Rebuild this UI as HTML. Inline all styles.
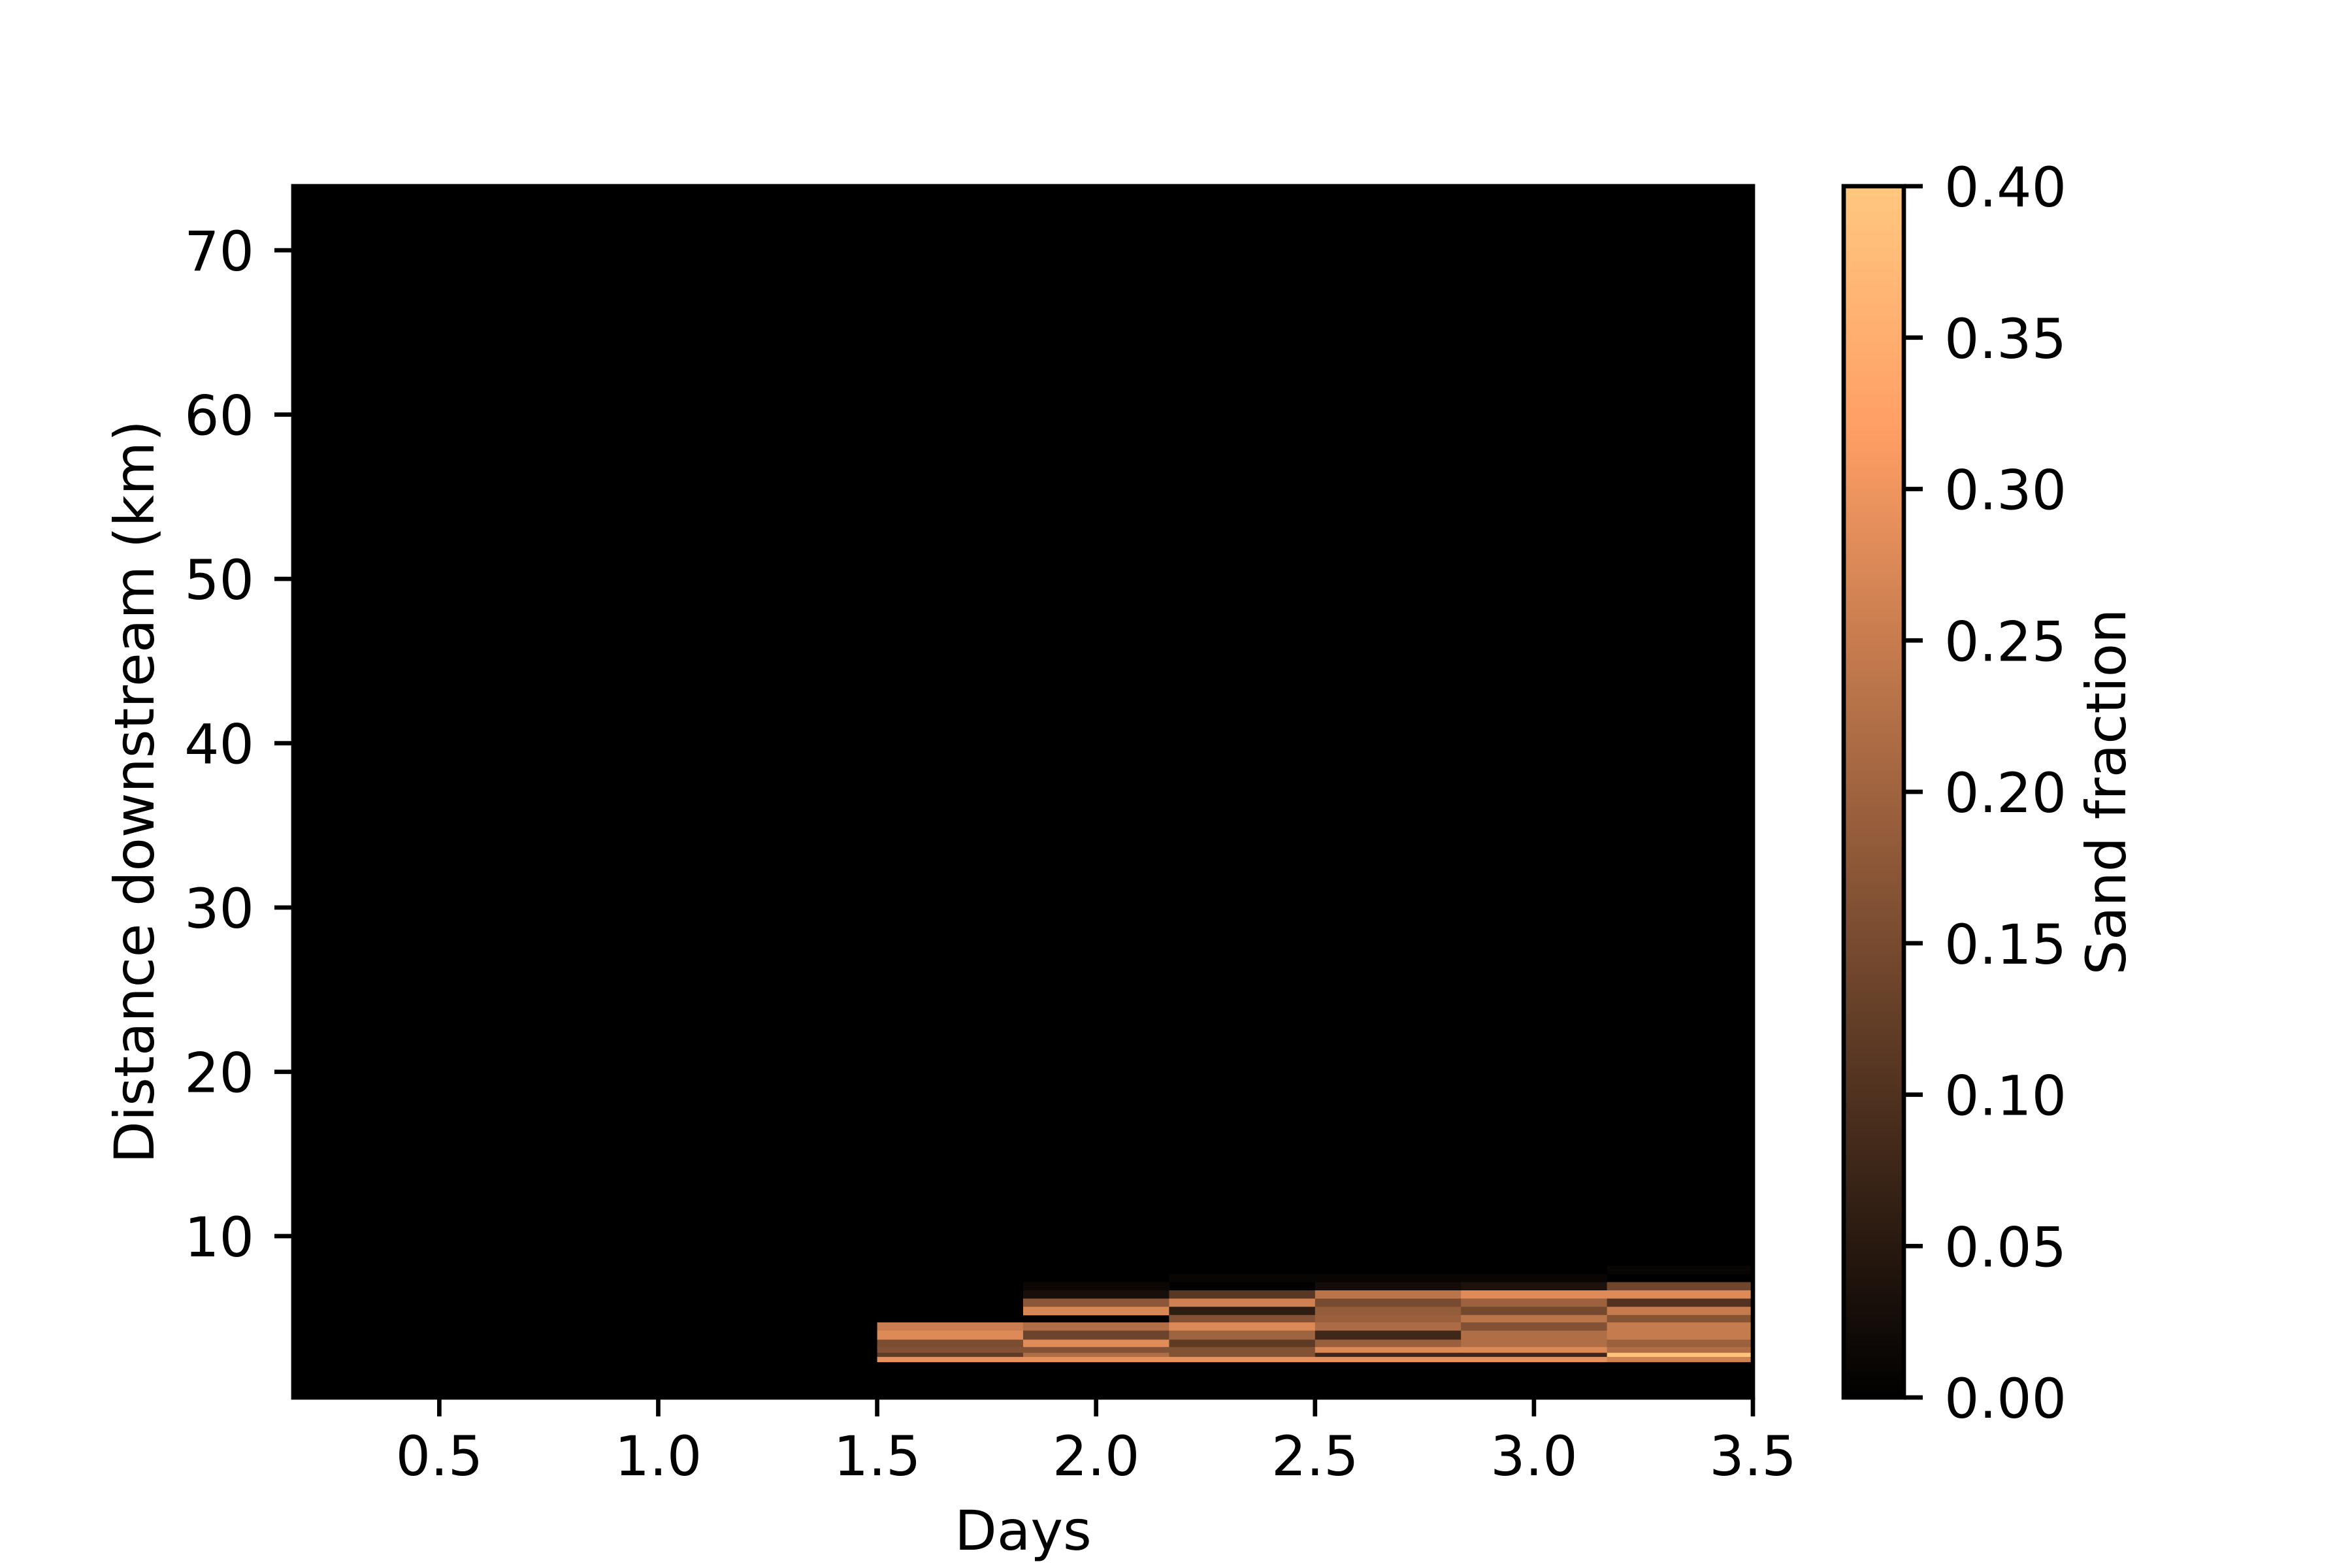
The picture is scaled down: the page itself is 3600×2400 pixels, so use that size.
<!DOCTYPE html>
<html><head><meta charset="utf-8"><style>
html,body{margin:0;padding:0;background:#fff;}
svg{display:block;font-family:"DejaVu Sans","Liberation Sans",sans-serif;}
</style></head>
<body>
<svg id="chart" width="3600" height="2400" viewBox="0 0 3600 2400" xmlns="http://www.w3.org/2000/svg">
<defs>
<linearGradient id="copper" x1="0" y1="1" x2="0" y2="0">
<stop offset="0" stop-color="rgb(0,0,0)"/>
<stop offset="0.8" stop-color="rgb(255,159,101)"/>
<stop offset="1" stop-color="rgb(255,199,127)"/>
</linearGradient>
</defs>
<rect x="0" y="0" width="3600" height="2400" fill="#fff"/>
<g id="plot"></g>
</svg>
<script>
// ---- data ----
const colStarts = [1.5, 1.8333, 2.1667, 2.5, 2.8333, 3.1667];
const colWidth = 1/3;
const rowTops = [8.2, 7.7, 7.2, 6.7, 6.2, 5.7, 5.2, 4.75, 4.25, 3.7, 3.25, 2.9, 2.65];
const rowBottoms = [7.7, 7.2, 6.7, 6.2, 5.7, 5.2, 4.75, 4.25, 3.7, 3.25, 2.9, 2.65, 2.35];
// values per row (top to bottom), columns c0..c5
const row0 = [0, 0, 0, 0, 0, 0.01];
const row1 = [0, 0, 0.01, 0.01, 0.01, 0];
const row2 = [0, 0.015, 0, 0.025, 0.035, 0.14];
const row3 = [0, 0.03, 0.11, 0.233, 0.28, 0.28];
const row4 = [0, 0.175, 0.26, 0.15, 0.196, 0.103];
const row5 = [0, 0.27, 0.058, 0.185, 0.146, 0.247];
const row6 = [0, 0, 0.165, 0.193, 0.235, 0.168];
const row7 = [0.252, 0.22, 0.276, 0.215, 0.165, 0.246];
const row8 = [0.277, 0.136, 0.198, 0.079, 0.22, 0.246];
const row9 = [0.156, 0.281, 0.119, 0.193, 0.22, 0.195];
const row10 = [0.165, 0.165, 0.165, 0.276, 0.276, 0.221];
const row11 = [0.119, 0.218, 0.165, 0.078, 0.078, 0.395];
const row12 = [0.291, 0.291, 0.291, 0.291, 0.291, 0.26];
const values = [row0,row1,row2,row3,row4,row5,row6,row7,row8,row9,row10,row11,row12];
const xTicks = [0.5, 1.0, 1.5, 2.0, 2.5, 3.0, 3.5];
const xTickLabels = ["0.5","1.0","1.5","2.0","2.5","3.0","3.5"];
const yTicks = [10, 20, 30, 40, 50, 60, 70];
const yTickLabels = ["10","20","30","40","50","60","70"];
const cbTicks = [0, 0.05, 0.1, 0.15, 0.2, 0.25, 0.3, 0.35, 0.4];
const cbTickLabels = ["0.00","0.05","0.10","0.15","0.20","0.25","0.30","0.35","0.40"];
const vmin = 0, vmax = 0.4;

// ---- layout ----
const L = 449, R = 2683, T = 285, B = 2139;
const xMin = 1/6, xMax = 3.5;
const yMin = 0.18, yMax = 73.9;
const X = v => L + (v - xMin) / (xMax - xMin) * (R - L);
const Y = v => B - (v - yMin) / (yMax - yMin) * (B - T);
const CBL = 2822, CBR = 2914;
const CY = v => B - (v - vmin) / (vmax - vmin) * (B - T);
function copper(v){
  let t = Math.max(0, Math.min(1, (v - vmin) / (vmax - vmin)));
  const r = Math.min(1, 1.25*t), g = 0.7812*t, b = 0.4975*t;
  return `rgb(${Math.round(r*255)},${Math.round(g*255)},${Math.round(b*255)})`;
}
const NS = "http://www.w3.org/2000/svg";
const g = document.getElementById('plot');
function mk(tag, attrs, parent){
  const e = document.createElementNS(NS, tag);
  for (const k in attrs) e.setAttribute(k, attrs[k]);
  (parent||g).appendChild(e);
  return e;
}
// axes background (zero values)
let bg = mk('rect', {x:L, y:T, width:R-L, height:B-T, fill:'#000'});


// cells
values.forEach((row, i) => {
  row.forEach((v, j) => {
    if (v <= 0) return;
    const x0 = X(colStarts[j]), x1 = X(colStarts[j] + colWidth);
    const y0 = Y(rowTops[i]), y1 = Y(rowBottoms[i]);
    const c = mk('rect', {x:x0, y:y0, width:x1-x0+0.5, height:y1-y0+0.5, fill:copper(v)});
    
    
  });
});
// spines
let sp = mk('rect', {x:L, y:T, width:R-L, height:B-T, fill:'none', stroke:'#000', 'stroke-width':6.7});


// x ticks
xTicks.forEach((v, i) => {
  const t = mk('line', {x1:X(v), x2:X(v), y1:B, y2:B+29, stroke:'#000', 'stroke-width':6.7});
  
  
  const tx = mk('text', {x:X(v), y:2258, 'font-size':84, 'text-anchor':'middle', fill:'#000'});
  tx.textContent = xTickLabels[i];
  
  
});
// y ticks
yTicks.forEach((v, i) => {
  const t = mk('line', {x1:L-29, x2:L, y1:Y(v), y2:Y(v), stroke:'#000', 'stroke-width':6.7});
  
  
  const tx = mk('text', {x:389, y:Y(v)+31, 'font-size':84, 'text-anchor':'end', fill:'#000'});
  tx.textContent = yTickLabels[i];
  
  
});
// axis titles
let xt = mk('text', {x:(L+R)/2, y:2372, 'font-size':84, 'text-anchor':'middle', fill:'#000'});
xt.textContent = 'Days';


let yt = mk('text', {x:0, y:0, 'font-size':84, 'text-anchor':'middle', fill:'#000', transform:`translate(235,${(T+B)/2}) rotate(-90)`});
yt.textContent = 'Distance downstream (km)';


// colorbar
let cb = mk('rect', {x:CBL, y:T, width:CBR-CBL, height:B-T, fill:'url(#copper)', stroke:'#000', 'stroke-width':6.7});


cbTicks.forEach((v, i) => {
  const t = mk('line', {x1:CBR, x2:CBR+29, y1:CY(v), y2:CY(v), stroke:'#000', 'stroke-width':6.7});
  
  
  const tx = mk('text', {x:2976, y:CY(v)+31, 'font-size':84, 'text-anchor':'start', fill:'#000'});
  tx.textContent = cbTickLabels[i];
  
  
});
let ct = mk('text', {x:0, y:0, 'font-size':84, 'text-anchor':'middle', fill:'#000', transform:`translate(3253,${(T+B)/2}) rotate(-90)`});
ct.textContent = 'Sand fraction';


</script>
</body></html>
